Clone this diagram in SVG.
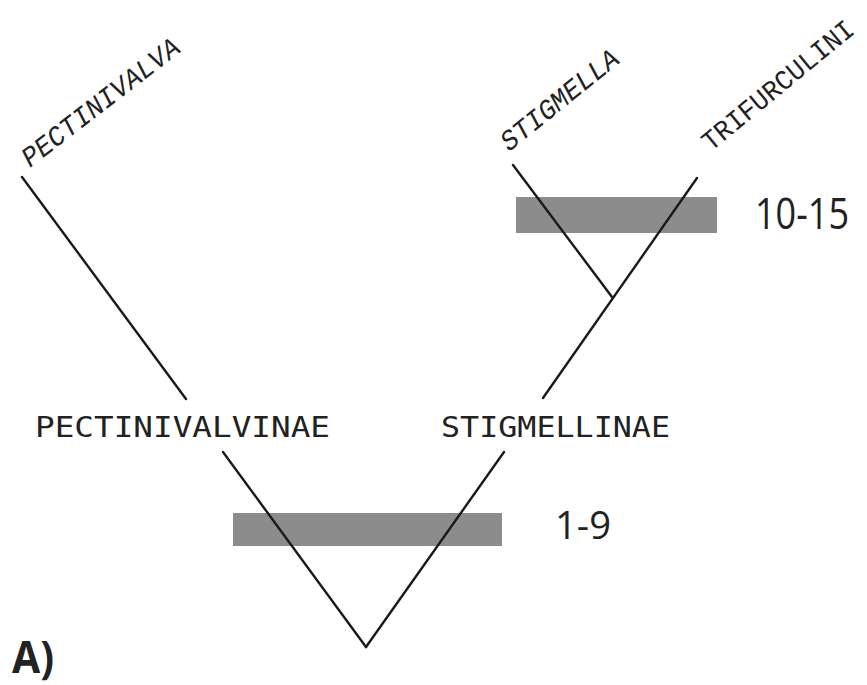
<svg xmlns="http://www.w3.org/2000/svg" width="867" height="685" viewBox="0 0 867 685">
<style>
.br{stroke:#1a1a1a;stroke-width:2.4;fill:none;stroke-linecap:round}
.bar{fill:#8c8c8c}
.tax{font-family:"Liberation Mono","DejaVu Sans Mono",monospace;font-size:28px;fill:#222}
.gen{font-style:italic}
.sub{font-family:"DejaVu Sans Mono","Liberation Mono",monospace;font-size:29px;fill:#222}
.num{font-family:"Open Sans","DejaVu Sans",sans-serif;fill:#222}
</style>
<rect width="867" height="685" fill="#ffffff"/>
<g id="bar-10-15"><rect class="bar" x="516" y="197" width="201" height="36"/></g>
<g id="bar-1-9"><rect class="bar" x="233" y="513" width="269" height="33"/></g>
<g id="connectors">
<line class="br" x1="22" y1="177" x2="186" y2="399"/>
<line class="br" x1="223" y1="452" x2="366" y2="647"/>
<line class="br" x1="366" y1="647" x2="504" y2="452"/>
<line class="br" x1="543" y1="398" x2="697" y2="178"/>
<line class="br" x1="513" y1="165" x2="612" y2="297"/>
</g>
<g id="pectinivalva"><text class="tax gen" transform="translate(30,168) rotate(-37.6)" textLength="192" lengthAdjust="spacingAndGlyphs">PECTINIVALVA</text></g>
<g id="stigmella"><text class="tax gen" transform="translate(509,152) rotate(-38.8)" textLength="144" lengthAdjust="spacingAndGlyphs">STIGMELLA</text></g>
<g id="trifurculini"><text class="tax" transform="translate(711,152) rotate(-39.5)" font-size="25" textLength="188" lengthAdjust="spacingAndGlyphs">TRIFURCULINI</text></g>
<g id="pectinivalvinae"><text class="sub" x="35" y="437" textLength="295" lengthAdjust="spacingAndGlyphs">PECTINIVALVINAE</text></g>
<g id="stigmellinae"><text class="sub" x="441" y="437" textLength="229" lengthAdjust="spacingAndGlyphs">STIGMELLINAE</text></g>
<g id="label-10-15"><text class="num" transform="translate(755,229) scale(1,1.1)" font-size="40" textLength="94" lengthAdjust="spacingAndGlyphs">10-15</text></g>
<g id="label-1-9"><text class="num" x="555" y="539" font-size="39" textLength="56" lengthAdjust="spacingAndGlyphs">1-9</text></g>
<g id="label-A"><text class="num" x="12" y="673" font-size="44" font-weight="bold" textLength="42" lengthAdjust="spacingAndGlyphs">A)</text></g>
</svg>
